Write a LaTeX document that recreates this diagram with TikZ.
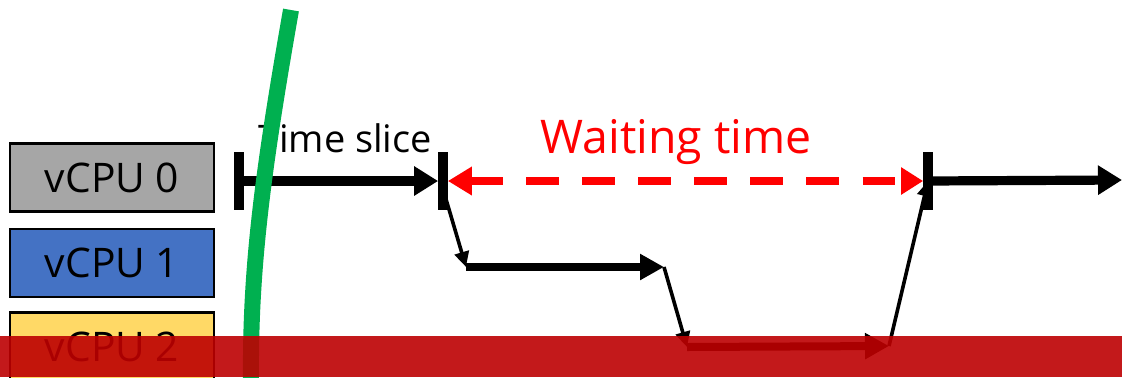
\documentclass[tikz,border=0pt]{standalone}
\usepackage{fontspec}
\setmainfont{Open Sans}
\usetikzlibrary{arrows.meta}

\definecolor{cpugray}{HTML}{A6A6A6}
\definecolor{cpublue}{HTML}{4472C4}
\definecolor{cpuyellow}{HTML}{FFD966}
\definecolor{cutgreen}{HTML}{00B050}
\definecolor{bandred}{RGB}{189,0,2}

\begin{document}
\begin{tikzpicture}[x=0.025cm, y=-0.025cm,
        cpu/.style  = {draw, line width=0.055cm, minimum width=5.1cm, minimum height=1.7cm, inner sep=0pt, font=\fontsize{29}{32}\selectfont},
        tick/.style = {fill=black, minimum width=0.23cm, minimum height=1.45cm, inner sep=0pt},
        bar/.style  = {line width=0.23cm, -{Triangle[length=0.6cm, width=0.7cm]}},
        wait/.style = {line width=0.2cm, red, dash pattern=on 0.82cm off 0.58cm, {Triangle[length=0.6cm, width=0.68cm]}-{Triangle[length=0.55cm, width=0.65cm]}},
        hop/.style  = {line width=0.09cm, -{Triangle[length=0.38cm, width=0.36cm]}},
        lbl/.style  = {anchor=base, inner sep=0pt}
    ]
        \useasboundingbox (0,0) rectangle (1122,377);

        % vCPUs
        \node[cpu, fill=cpugray]   (c0) at (112,177.5) {vCPU 0};
        \node[cpu, fill=cpublue]   (c1) at (112,263)   {vCPU 1};
        \node[cpu, fill=cpuyellow] (c2) at (112,346.5) {vCPU 2};

        % time line of vCPU 0
        \node[tick] (k0) at (239,181) {};
        \node[tick] (k1) at (443,181) {};
        \node[tick] (k2) at (928,181) {};
        \coordinate (e0) at (1122,180);

        \draw[bar] (k0) -- (k1);
        \draw[wait] (k1) -- (k2);
        \draw[bar] (k2) -- (e0);

        % other vCPUs run meanwhile
        \coordinate (s1a) at (466,267);
        \coordinate (s1b) at (664,267);
        \coordinate (s2a) at (687,347);
        \coordinate (s2b) at (889,346);

        \draw[hop] (k1.center) ++(0,8) -- (s1a);
        \draw[bar, line width=0.2cm, -{Triangle[length=0.6cm, width=0.62cm]}] (s1a) -- (s1b);
        \draw[hop] (s1b) -- (s2a);
        \draw[bar, line width=0.2cm, -{Triangle[length=0.6cm, width=0.62cm]}] (s2a) -- (s2b);
        \draw[hop] (s2b) -- (k2.center);

        \node[lbl, font=\fontsize{27}{30}\selectfont] (ts) at (345,152) {Time slice};
        \node[lbl, text=red, font=\fontsize{33}{36}\selectfont] (wt) at (676,153) {Waiting time};

        % cut
        \draw[cutgreen, line width=0.4cm] (291,10) .. controls (262,175) and (250,270) .. (251,380);

        \fill[bandred, opacity=0.9] (0,336) rectangle (1122,377);
    \end{tikzpicture}
\end{document}
